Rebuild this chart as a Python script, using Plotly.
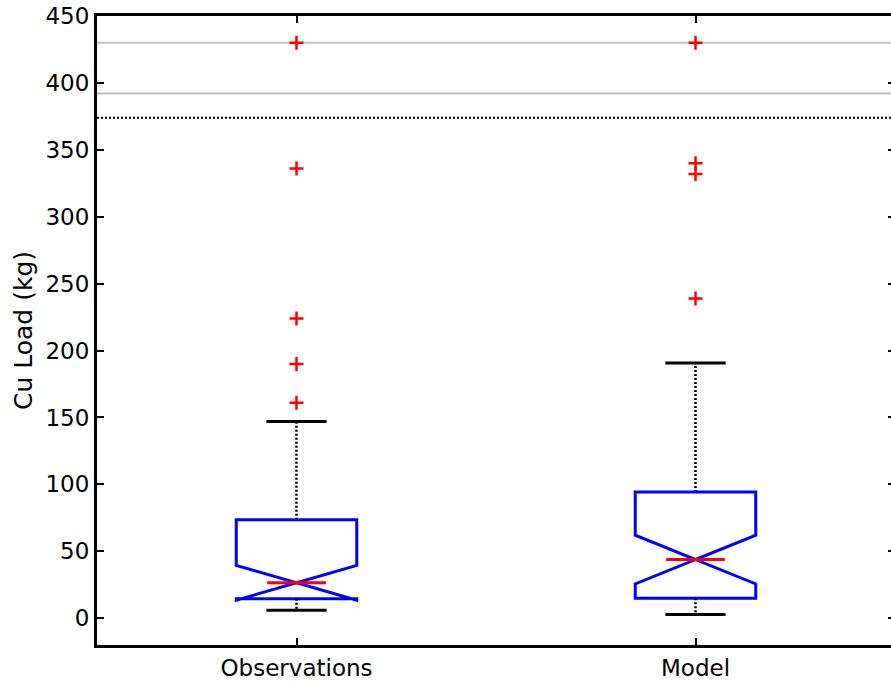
import plotly.graph_objects as go

# ---- data ----
categories = ["Observations", "Model"]
q1 = [14.5, 14.9]
median = [26.5, 43.8]
q3 = [73.5, 94.3]
notch_span = [13.0, 18.2]
lower_whisker = [5.9, 2.7]
upper_whisker = [147.0, 190.8]
outliers_obs = [430, 336, 224, 190, 161]
outliers_model = [430, 340, 332, 239]
gray_ref_lines = [430, 392]
threshold_line = [374]
y_ticks = [0, 50, 100, 150, 200, 250, 300, 350, 400, 450]

FONT = "DejaVu Sans, Arial, sans-serif"
xpos = [1, 2]
DOT = "2px,2px"

fig = go.Figure()

# reference lines
for yv in gray_ref_lines:
    fig.add_hline(y=yv, line=dict(color="#c0c0c0", width=2), layer="below")
for yv in threshold_line:
    fig.add_hline(y=yv, line=dict(color="black", width=2, dash=DOT), layer="below")

# whisker stems (dotted)
for i in range(len(categories)):
    fig.add_trace(go.Scatter(x=[xpos[i], xpos[i]], y=[q3[i], upper_whisker[i]], mode="lines",
                             line=dict(color="black", width=2.5, dash=DOT), showlegend=False, hoverinfo="skip"))
    fig.add_trace(go.Scatter(x=[xpos[i], xpos[i]], y=[q1[i], lower_whisker[i]], mode="lines",
                             line=dict(color="black", width=2.5, dash=DOT), showlegend=False, hoverinfo="skip"))

# whisker caps
fig.add_trace(go.Scatter(x=xpos + xpos, y=upper_whisker + lower_whisker, mode="markers",
                         marker=dict(symbol="line-ew", size=43, line=dict(color="black", width=3)),
                         showlegend=False, hoverinfo="skip"))

# notched boxes
fig.add_trace(go.Box(x=xpos, q1=q1, median=median, q3=q3,
                     lowerfence=q1, upperfence=q3, notchspan=notch_span,
                     notched=True, notchwidth=0.5, whiskerwidth=0, width=0.302,
                     boxpoints=False, fillcolor="rgba(0,0,0,0)",
                     line=dict(color="#0000ff", width=3), showlegend=False))

# red median lines
fig.add_trace(go.Scatter(x=xpos, y=median, mode="markers",
                         marker=dict(symbol="line-ew", size=42, line=dict(color="#ff0000", width=3)),
                         showlegend=False, hoverinfo="skip"))

# outliers
fig.add_trace(go.Scatter(x=[xpos[0]] * len(outliers_obs) + [xpos[1]] * len(outliers_model),
                         y=outliers_obs + outliers_model, mode="markers",
                         marker=dict(symbol="cross-thin", size=10, line=dict(color="#ff0000", width=2.5)),
                         showlegend=False))

fig.update_layout(
    width=898, height=681,
    margin=dict(l=97, r=0, t=16, b=32),
    plot_bgcolor="white", paper_bgcolor="white",
    font=dict(family=FONT, size=23, color="black"),
    boxmode="overlay",
    showlegend=False,
)
fig.update_xaxes(range=[0.5, 2.5], tickvals=xpos, ticktext=categories,
                 showline=True, linecolor="black", linewidth=3, mirror="ticks",
                 ticks="inside", ticklen=7, tickwidth=2, tickcolor="black",
                 showgrid=False, zeroline=False, tickfont=dict(size=23))
fig.update_yaxes(range=[-20, 450], tickvals=y_ticks,
                 showline=True, linecolor="black", linewidth=3, mirror="ticks",
                 ticks="inside", ticklen=7, tickwidth=2, tickcolor="black",
                 showgrid=False, zeroline=False, tickfont=dict(size=23),
                 title=dict(text="Cu Load (kg)", font=dict(size=25), standoff=6))

fig.write_html("out.html",
               config={"displayModeBar": False},
               post_script="document.body.style.margin='0px';document.body.style.overflow='hidden';")
